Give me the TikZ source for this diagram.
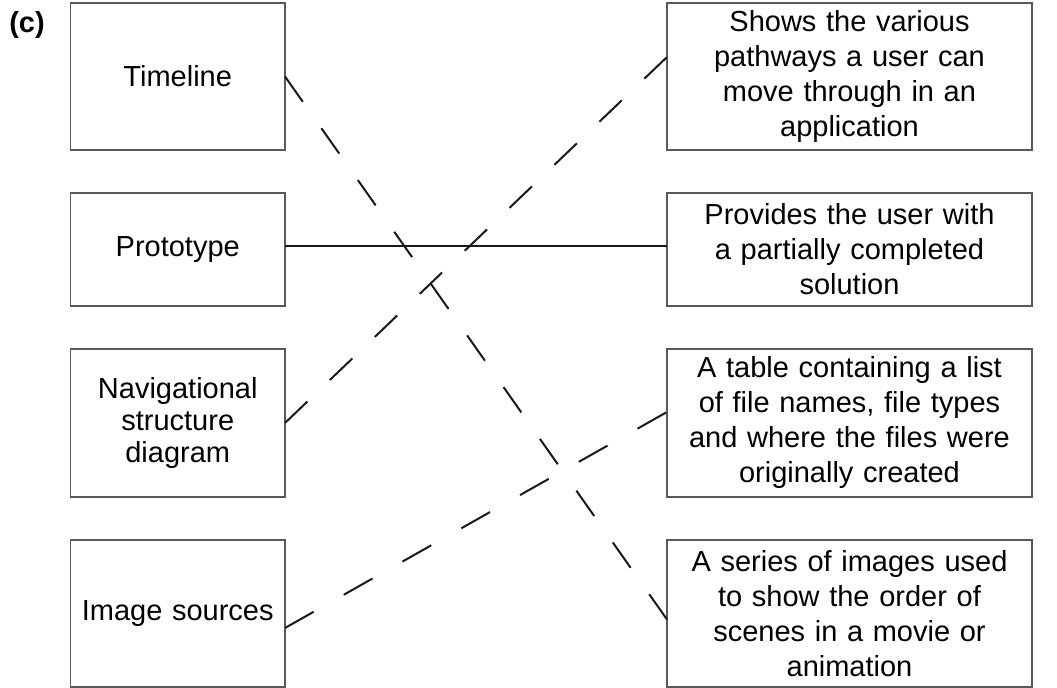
\documentclass[tikz,border=0pt]{standalone}
\usepackage{fontspec}
\setmainfont{Liberation Sans}
\usetikzlibrary{positioning}

\begin{document}
\begin{tikzpicture}[
  node distance=21.5pt and 191pt,
  box/.style={rectangle, draw=black!65, line width=0.6pt, outer sep=0pt,
              align=center, inner sep=2pt, font=\fontsize{14.5}{17.5}\selectfont},
  termbox/.style={box, minimum width=107.25pt, text width=100pt,
                  font=\fontsize{14.5}{16}\selectfont},
  descbox/.style={box, minimum width=182.5pt, text width=178pt},
  link/.style={line width=1pt, color=black!90},
  guess/.style={link, dash pattern=on #1},
  guess/.default={15.5pt off 16pt}
]
\useasboundingbox (0,0) rectangle (528.5pt,-344pt);

\node[font=\fontsize{14.5}{17}\selectfont\bfseries] (part) at (13.5pt,-12.5pt) {(c)};

% terms
\node[termbox, minimum height=73.5pt, anchor=north west] (timeline) at (35.25pt,-1.5pt) {Timeline};
\node[termbox, minimum height=56.5pt, below=of timeline] (prototype) {Prototype};
\node[termbox, minimum height=74pt, below=of prototype] (navstruct) {Navigational\\structure\\diagram};
\node[termbox, minimum height=73.5pt, below=of navstruct] (imgsrc) {Image sources};

% descriptions
\node[descbox, minimum height=73.5pt, right=of timeline] (pathways) {%
  Shows the various\\pathways a user can\\move through in an\\application};
\node[descbox, minimum height=56.5pt, right=of prototype] (partial) {%
  Provides the user with\\a partially completed\\solution};
\node[descbox, minimum height=74pt, right=of navstruct] (filetable) {%
  A table containing a list\\of file names, file types\\and where the files were\\originally created};
\node[descbox, minimum height=73.5pt, right=of imgsrc] (storyboard) {%
  A series of images used\\to show the order of\\scenes in a movie or\\animation};

\draw[link] ([yshift=1.75pt]prototype.east) -- ([yshift=1.75pt]partial.west);
\draw[guess={15.5pt off 16.15pt}] (timeline.east) -- ([yshift=-3pt]storyboard.west);
\draw[guess={15.5pt off 15.6pt}] (navstruct.east) -- ([yshift=9.75pt]pathways.west);
\draw[guess={16.5pt off 17.25pt}] ([yshift=-7.25pt]imgsrc.east) -- ([yshift=5.5pt]filetable.west);

\end{tikzpicture}
\end{document}
